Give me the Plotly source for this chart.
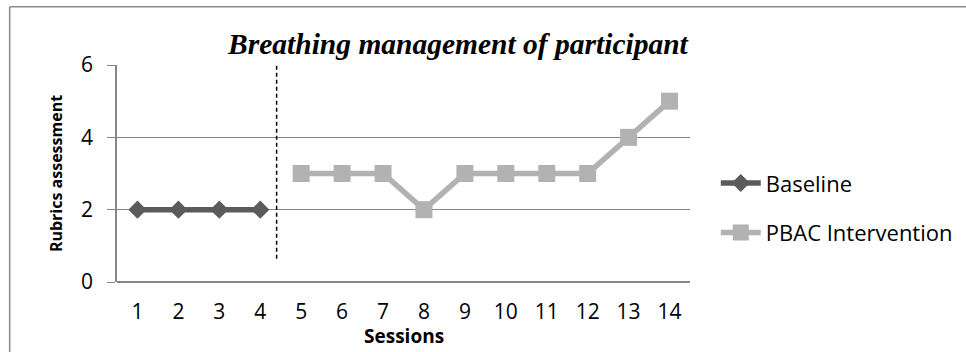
import plotly.graph_objects as go

# Session numbers and rubric scores for each phase
baseline_sessions = [1, 2, 3, 4]
baseline_scores = [2, 2, 2, 2]
intervention_sessions = [5, 6, 7, 8, 9, 10, 11, 12, 13, 14]
intervention_scores = [3, 3, 3, 2, 3, 3, 3, 3, 4, 5]
session_ticks = list(range(1, 15))
score_ticks = [0, 2, 4, 6]
phase_change = 4.4          # dashed divider between the two phases
phase_line_span = [0.64, 6]

label_font = "'Open Sans', Lato, sans-serif"
axis_grey = "#868686"

fig = go.Figure()

fig.add_trace(go.Scatter(
    x=baseline_sessions, y=baseline_scores, name="Baseline",
    mode="lines+markers", legendgroup="a",
    line=dict(color="#5b5b5b", width=5.5),
    marker=dict(symbol="diamond", size=14, color="#5b5b5b"),
))
fig.add_trace(go.Scatter(
    x=intervention_sessions, y=intervention_scores, name="PBAC Intervention",
    mode="lines+markers", legendgroup="b",
    line=dict(color="#b2b2b2", width=5.5),
    marker=dict(symbol="square", size=17, color="#b2b2b2"),
))

# phase-change line
fig.add_shape(type="line", xref="x", yref="y",
              x0=phase_change, x1=phase_change,
              y0=phase_line_span[0], y1=phase_line_span[1],
              line=dict(color="black", width=1.5, dash="4px,3px"))

# chart frame (top and left edges)
fig.add_shape(type="line", xref="paper", yref="paper",
              x0=-0.1873, x1=1.6, y0=1.269, y1=1.269,
              line=dict(color="#8a8a8a", width=1.5))
fig.add_shape(type="line", xref="paper", yref="paper",
              x0=-0.1873, x1=-0.1873, y0=1.269, y1=-0.5,
              line=dict(color="#8a8a8a", width=1.5))

# x-axis title sits just under the session numbers
fig.add_annotation(
    text="<b>Sessions</b>", xref="paper", yref="paper",
    x=0.5, y=-0.318, xanchor="center", yanchor="bottom", showarrow=False,
    font=dict(family=label_font, size=19, color="black"),
)

fig.update_layout(
    width=966, height=352,
    margin=dict(l=116.5, r=275.5, t=65, b=70, autoexpand=False),
    paper_bgcolor="white", plot_bgcolor="white",
    title=dict(
        text="<b><i>Breathing management of participant</i></b>",
        font=dict(family="'Liberation Serif', 'Times New Roman', serif",
                  size=29.5, color="black"),
        xref="paper", x=0.595, xanchor="center",
        yref="container", y=0.875, yanchor="middle",
    ),
    xaxis=dict(
        range=[0.5, 14.5], tickmode="array", tickvals=session_ticks,
        ticktext=[str(s) for s in session_ticks],
        showgrid=False, zeroline=False, showline=False,
        ticks="", ticklabelstandoff=15, automargin=False,
        tickfont=dict(family=label_font, size=21, color="black"),
    ),
    yaxis=dict(
        range=[0, 6], tickmode="array", tickvals=score_ticks,
        showgrid=True, gridcolor=axis_grey, gridwidth=1.3,
        zeroline=True, zerolinecolor=axis_grey, zerolinewidth=1.5,
        showline=True, linecolor=axis_grey, linewidth=1.5,
        ticks="outside", ticklen=8, tickcolor=axis_grey, tickwidth=1.3,
        ticklabelstandoff=10, automargin=False,
        tickfont=dict(family=label_font, size=21, color="black"),
        title=dict(text="<b>Rubrics assessment</b>", standoff=14,
                   font=dict(family=label_font, size=16, color="black")),
    ),
    legend=dict(
        x=1.045, xanchor="left", y=0.34, yanchor="middle",
        tracegroupgap=18, bgcolor="rgba(0,0,0,0)", itemwidth=40,
        font=dict(family=label_font, size=22, color="black"),
    ),
)

fig.write_html("out.html")
